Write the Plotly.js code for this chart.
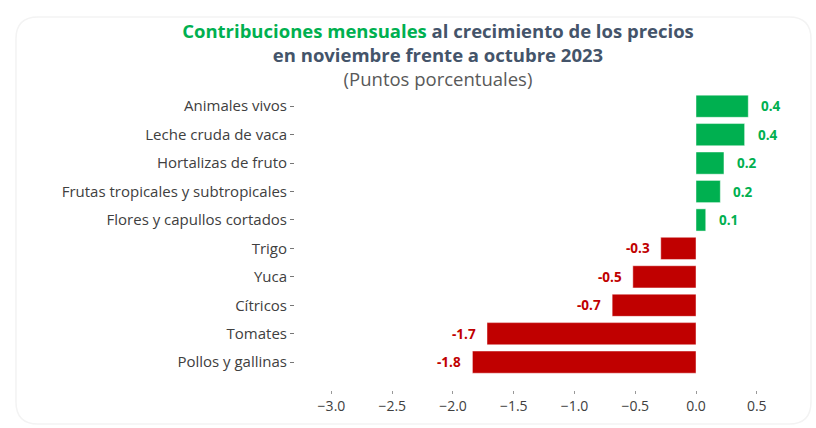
<!DOCTYPE html>
<html>
<head>
<meta charset="utf-8">
<script src="https://cdn.plot.ly/plotly-3.0.1.min.js"></script>
<style>
html,body{margin:0;padding:0;background:#fff;}
#chart{width:816px;height:428px;}
</style>
</head>
<body>
<div id="chart"></div>
<script>
var categories = ["Animales vivos","Leche cruda de vaca","Hortalizas de fruto","Frutas tropicales y subtropicales","Flores y capullos cortados","Trigo","Yuca","Cítricos","Tomates","Pollos y gallinas"];
var values = [0.43, 0.40, 0.23, 0.20, 0.08, -0.29, -0.52, -0.69, -1.72, -1.84];
var valueLabels = ["0.4","0.4","0.2","0.2","0.1","-0.3","-0.5","-0.7","-1.7","-1.8"];
var xTicks = [-3.0,-2.5,-2.0,-1.5,-1.0,-0.5,0.0,0.5];
var xTickLabels = ["−3.0","−2.5","−2.0","−1.5","−1.0","−0.5","0.0","0.5"];

var GREEN = "#00B050", RED = "#C00000";
var colors = values.map(function(v){return v >= 0 ? GREEN : RED;});
var FONT = "'Open Sans', sans-serif";

var trace = {
  type: "bar",
  orientation: "h",
  y: categories,
  x: values,
  width: 0.78,
  marker: {color: colors, line: {color: "rgba(255,255,255,0.45)", width: 1}},
  hoverinfo: "skip"
};

var annotations = values.map(function(v, i){
  return {
    x: v, y: categories[i], xref: "x", yref: "y",
    text: "<b>" + valueLabels[i] + "</b>",
    showarrow: false,
    xanchor: v >= 0 ? "left" : "right",
    xshift: v >= 0 ? 11 : -9,
    font: {family: FONT, size: 13.5, color: v >= 0 ? GREEN : RED}
  };
});

// card outline (rounded), in paper coords of the plot area
var L = 295, T = 92, W = 480, H = 298;
function px(x){ return ((x - L) / W).toFixed(4); }
function py(y){ return ((T + H - y) / H).toFixed(4); }
var x0 = 16, x1 = 811, y0 = 17, y1 = 424, r = 22;
var cardPath = "M " + px(x0 + r) + " " + py(y0) +
  " L " + px(x1 - r) + " " + py(y0) +
  " Q " + px(x1) + " " + py(y0) + " " + px(x1) + " " + py(y0 + r) +
  " L " + px(x1) + " " + py(y1 - r) +
  " Q " + px(x1) + " " + py(y1) + " " + px(x1 - r) + " " + py(y1) +
  " L " + px(x0 + r) + " " + py(y1) +
  " Q " + px(x0) + " " + py(y1) + " " + px(x0) + " " + py(y1 - r) +
  " L " + px(x0) + " " + py(y0 + r) +
  " Q " + px(x0) + " " + py(y0) + " " + px(x0 + r) + " " + py(y0) + " Z";

var layout = {
  width: 816, height: 428,
  margin: {l: L, r: 816 - L - W, t: T, b: 428 - T - H},
  paper_bgcolor: "rgba(0,0,0,0)",
  plot_bgcolor: "rgba(0,0,0,0)",
  showlegend: false,
  title: {
    text: "<b><span style='color:" + GREEN + "'>Contribuciones mensuales</span> al crecimiento de los precios<br>en noviembre frente a octubre 2023</b><br><span style='font-weight:normal;color:#595959'>(Puntos porcentuales)</span>",
    font: {family: FONT, size: 18.5, color: "#44546A"},
    x: 438/816, xanchor: "center", xref: "container",
    y: 1 - 38/428, yanchor: "top", yref: "container"
  },
  xaxis: {
    range: [-3.3, 0.65],
    tickvals: xTicks, ticktext: xTickLabels,
    showgrid: false, zeroline: false, showline: false,
    ticks: "outside", ticklen: 3, tickcolor: "#999", tickwidth: 1,
    tickfont: {family: FONT, size: 14, color: "#404040"},
    fixedrange: true
  },
  yaxis: {
    categoryorder: "array", categoryarray: categories,
    range: [9.98, -0.5],
    showgrid: false, zeroline: false, showline: false,
    ticks: "outside", ticklen: 4, tickcolor: "#777", tickwidth: 1,
    tickfont: {family: FONT, size: 15, color: "#404040"},
    fixedrange: true
  },
  annotations: annotations,
  shapes: [{
    type: "path", xref: "paper", yref: "paper", layer: "below",
    path: cardPath,
    line: {color: "#f3f3f3", width: 1.5}, fillcolor: "rgba(255,255,255,0)"
  }]
};

Plotly.newPlot("chart", [trace], layout, {displayModeBar: false, staticPlot: true});
</script>
</body>
</html>
